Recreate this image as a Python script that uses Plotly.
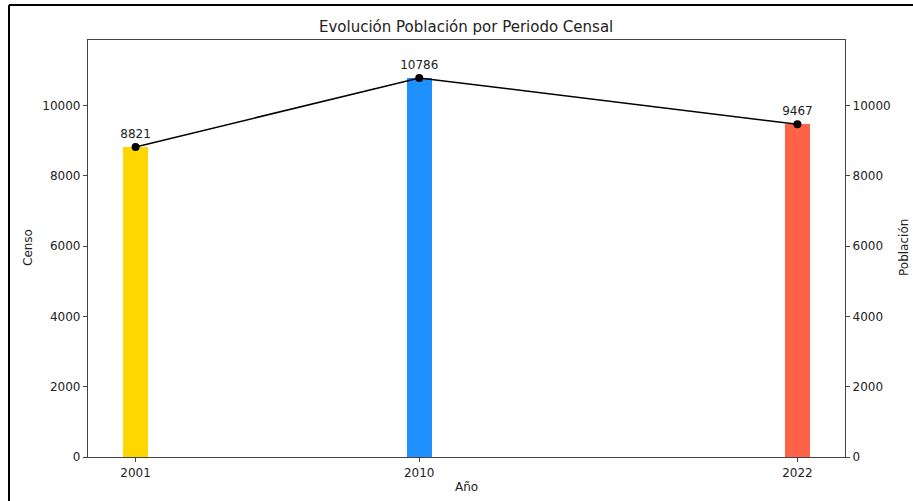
import plotly.graph_objects as go

years = [2001, 2010, 2022]
population = [8821, 10786, 9467]
bar_colors = ["#FFD700", "#1E90FF", "#FF6347"]
y_ticks = [0, 2000, 4000, 6000, 8000, 10000]
y_tick_labels = ["0", "2000", "4000", "6000", "8000", "10000"]
title = "Evolución Población por Periodo Censal"

W, H = 913, 501
L, R, T, B = 88, 845, 40, 457
ymax = max(population) * 1.1
font = "DejaVu Sans, sans-serif"
axis_col = "#444"

fig = go.Figure()
fig.add_trace(go.Bar(x=years, y=population, width=0.8, marker_color=bar_colors,
                     marker_line_width=0, showlegend=False, hoverinfo="x+y"))
fig.add_trace(go.Scatter(x=years, y=population, mode="lines+markers+text",
                         text=[str(v) for v in population], textposition="top center",
                         textfont=dict(family=font, size=12, color="#222"),
                         line=dict(color="black", width=1.5),
                         marker=dict(color="black", size=8),
                         yaxis="y2", showlegend=False))

def px_x(p):
    return (p - L) / (R - L)

def px_y(p):
    return (B - p) / (B - T)

fig.update_layout(
    width=W, height=H,
    margin=dict(l=L, r=W - R, t=T, b=H - B, pad=0),
    paper_bgcolor="white", plot_bgcolor="white",
    font=dict(family=font, size=12, color="#222"),
    bargap=0,
    xaxis=dict(range=[1999.49, 2023.51], tickvals=years, ticktext=[str(y) for y in years],
               showgrid=False, zeroline=False, showline=True, linecolor=axis_col, linewidth=1.2,
               mirror=True, ticks="outside", ticklen=4, tickcolor=axis_col,
               tickfont=dict(size=12, color="#222")),
    yaxis=dict(range=[0, ymax], tickvals=y_ticks, ticktext=y_tick_labels, showgrid=False,
               zeroline=False, showline=True, linecolor=axis_col, linewidth=1.2, ticks="outside",
               ticklen=4, tickcolor=axis_col, tickfont=dict(size=12, color="#222")),
    yaxis2=dict(range=[0, ymax], tickvals=y_ticks, ticktext=y_tick_labels, overlaying="y",
                side="right", showgrid=False, zeroline=False, showline=True, linecolor=axis_col,
                linewidth=1.2, ticks="outside", ticklen=4, tickcolor=axis_col,
                tickfont=dict(size=12, color="#222")),
    annotations=[
        dict(text=title, xref="paper", yref="paper", x=px_x(466), y=px_y(27), showarrow=False,
             font=dict(size=15, color="#222"), xanchor="center", yanchor="middle"),
        dict(text="Censo", xref="paper", yref="paper", x=px_x(28), y=px_y(248), showarrow=False,
             textangle=-90, font=dict(size=12, color="#222"), xanchor="center", yanchor="middle"),
        dict(text="Población", xref="paper", yref="paper", x=px_x(904), y=px_y(248), showarrow=False,
             textangle=-90, font=dict(size=12, color="#222"), xanchor="center", yanchor="middle"),
        dict(text="Año", xref="paper", yref="paper", x=px_x(466), y=px_y(487), showarrow=False,
             font=dict(size=12, color="#222"), xanchor="center", yanchor="middle"),
    ],
    shapes=[
        dict(type="line", xref="paper", yref="paper", x0=px_x(9), x1=px_x(913), y0=px_y(5), y1=px_y(5),
             line=dict(color="black", width=2)),
        dict(type="line", xref="paper", yref="paper", x0=px_x(9), x1=px_x(9), y0=px_y(5), y1=px_y(501),
             line=dict(color="black", width=2)),
    ],
)

fig.write_html("out.html", config={"displayModeBar": False},
               post_script="document.body.style.margin='0';document.body.style.overflow='hidden';")
